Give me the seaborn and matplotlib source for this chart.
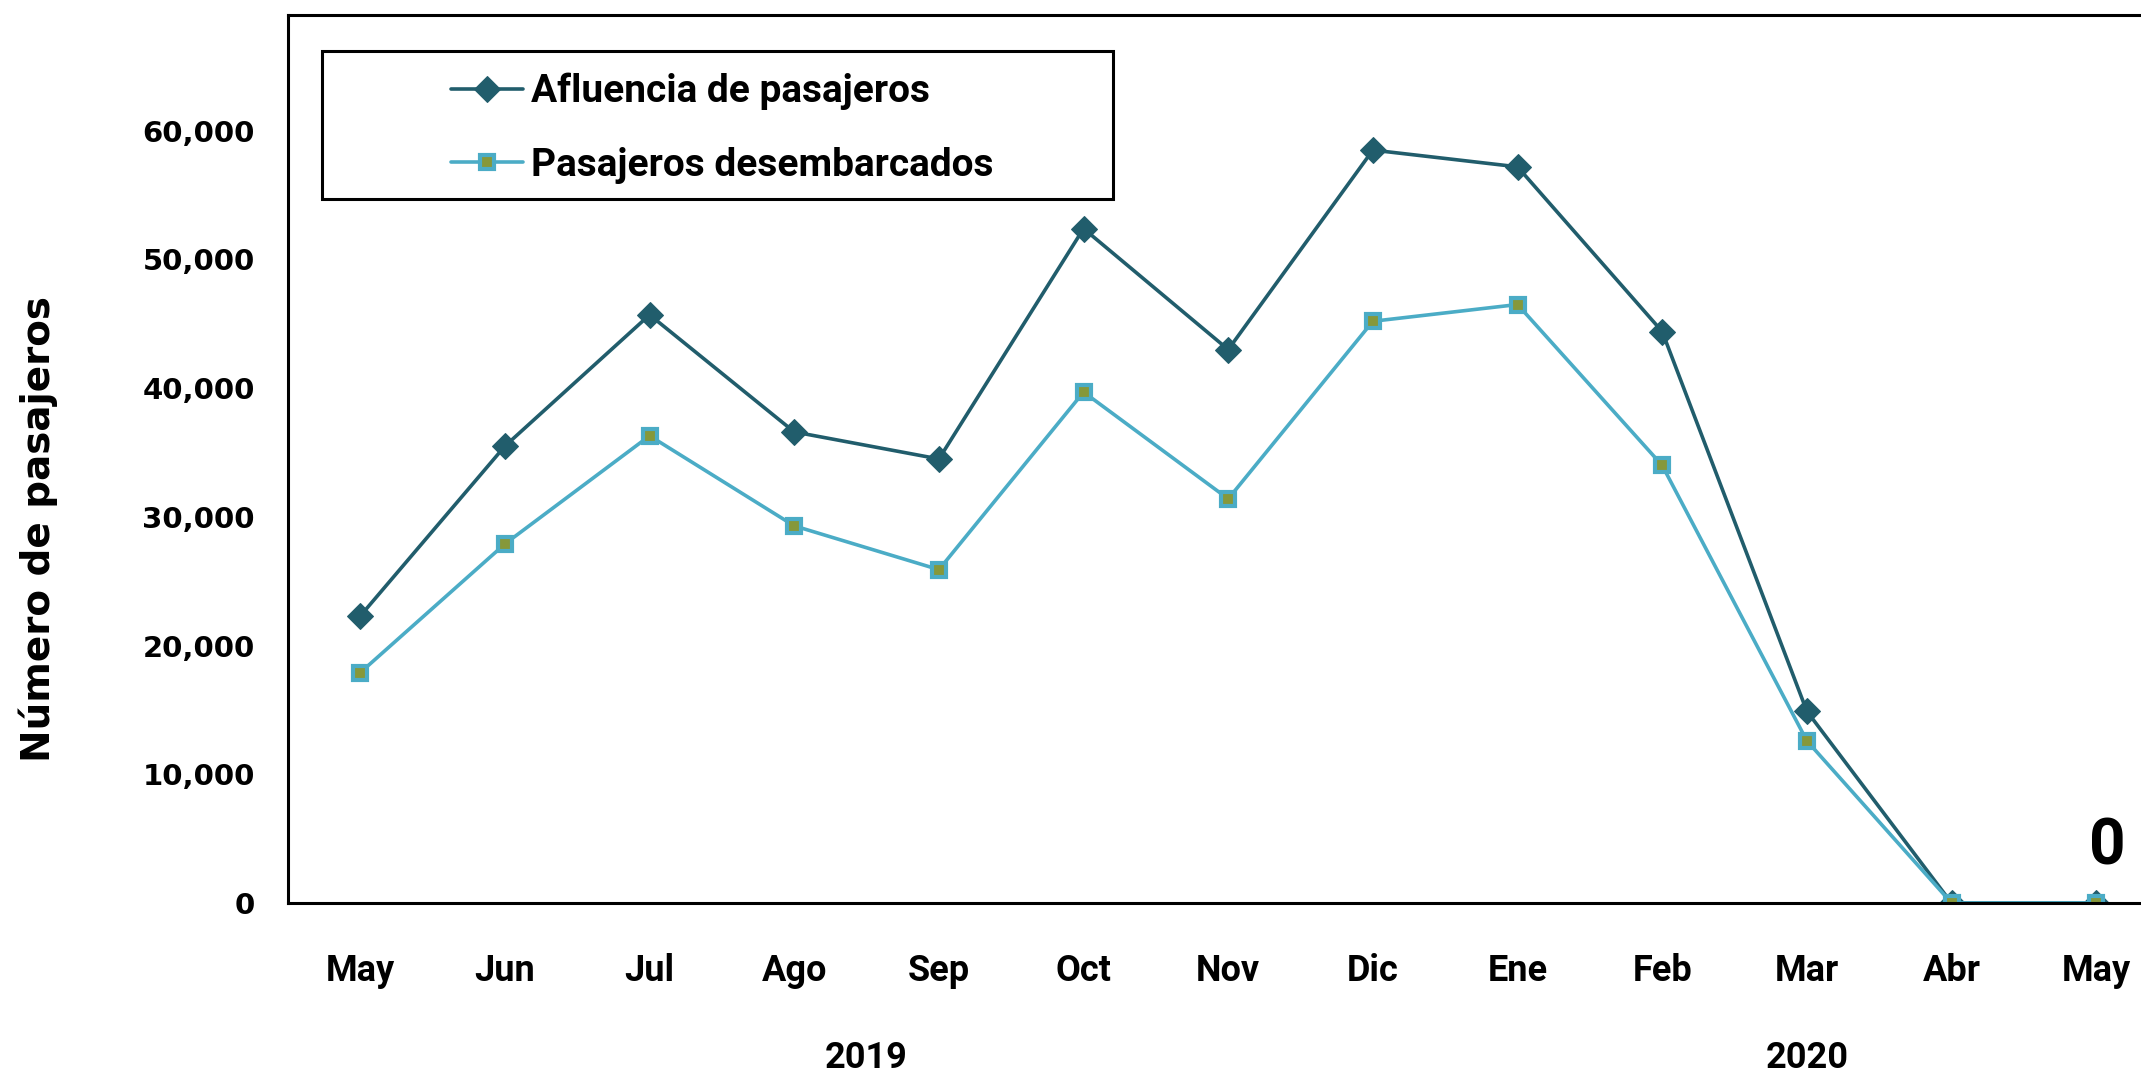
import pandas as pd
import matplotlib.pyplot as plt
import seaborn as sns
from matplotlib.patches import Rectangle

# monthly passengers, May 2019 - May 2020
months = ["May", "Jun", "Jul", "Ago", "Sep", "Oct", "Nov", "Dic", "Ene", "Feb", "Mar", "Abr", "May"]
afluencia = [22300, 35500, 45700, 36600, 34500, 52400, 43000, 58500, 57200, 44400, 14900, 0, 0]
desembarcados = [17900, 27900, 36300, 29300, 25900, 39700, 31400, 45200, 46500, 34000, 12600, 0, 0]
years = ["2019", "2020"]
year_centers = [3.5, 10]

dark = "#215D6C"
light = "#4BACC6"
olive = "#86983A"

sns.set_style("white")
narrow = ["Roboto", "DejaVu Sans"]
plt.rcParams["font.family"] = ["DejaVu Sans"]
for key in ["text.color", "axes.labelcolor", "xtick.color", "ytick.color"]:
    plt.rcParams[key] = "black"

df = pd.DataFrame({"pos": range(len(months)), "afluencia": afluencia, "desembarcados": desembarcados})

fig = plt.figure(figsize=(21.41, 10.77), dpi=100)
ax = fig.add_axes([0.1345, 0.1616, 0.8655, 0.8245])

sns.lineplot(x="pos", y="afluencia", data=df, ax=ax, color=dark, linewidth=2.6,
             marker="D", markersize=13, markeredgecolor=dark, label="Afluencia de pasajeros")
sns.lineplot(x="pos", y="desembarcados", data=df, ax=ax, color=light, linewidth=2.6,
             marker="s", markersize=10, markerfacecolor=olive, markeredgecolor=light,
             markeredgewidth=3, label="Pasajeros desembarcados")

ax.set_xlim(-0.5, 12.31)
ax.set_ylim(0, 69000)
ax.set_xticks(range(len(months)))
ax.set_xticklabels(months, family=narrow, fontweight="bold", fontsize=26)
ax.set_yticks(range(0, 60001, 10000))
ax.set_yticklabels([f"{v:,}" for v in range(0, 60001, 10000)], fontweight="bold", fontsize=21)
ax.tick_params(axis="x", length=0, pad=36)
ax.tick_params(axis="y", length=0, pad=24)
ax.set_xlabel("")
ax.set_ylabel("Número de pasajeros", fontweight="bold", fontsize=28)
ax.yaxis.set_label_coords(-0.124, 0.421)

for side in ["left", "top", "bottom"]:
    ax.spines[side].set_color("black")
    ax.spines[side].set_linewidth(2.2)
ax.spines["right"].set_visible(False)

for year, xc in zip(years, year_centers):
    ax.annotate(year, xy=(xc, 0.018), xycoords=("data", "figure fraction"),
                ha="center", va="center", family=narrow, fontweight="bold", fontsize=26)

ax.annotate("0", xy=(12, 0), xytext=(8, 40), textcoords="offset points",
            ha="center", va="center", family=narrow, fontweight="bold", fontsize=46)

# legend box drawn separately, entries sit indented inside it
ax.add_patch(Rectangle((0.0183, 0.7928), 0.4269, 0.1667, transform=ax.transAxes,
                       facecolor="white", edgecolor="black", linewidth=2.2, zorder=4))
leg = ax.legend(loc="upper left", bbox_to_anchor=(0.088, 0.935), prop={"family": narrow, "weight": "bold", "size": 28},
                frameon=False, handlelength=1.85, handletextpad=0.2,
                borderpad=0, labelspacing=0.95, borderaxespad=0)
leg.set_zorder(5)
fig.savefig("out.png", dpi=100)
